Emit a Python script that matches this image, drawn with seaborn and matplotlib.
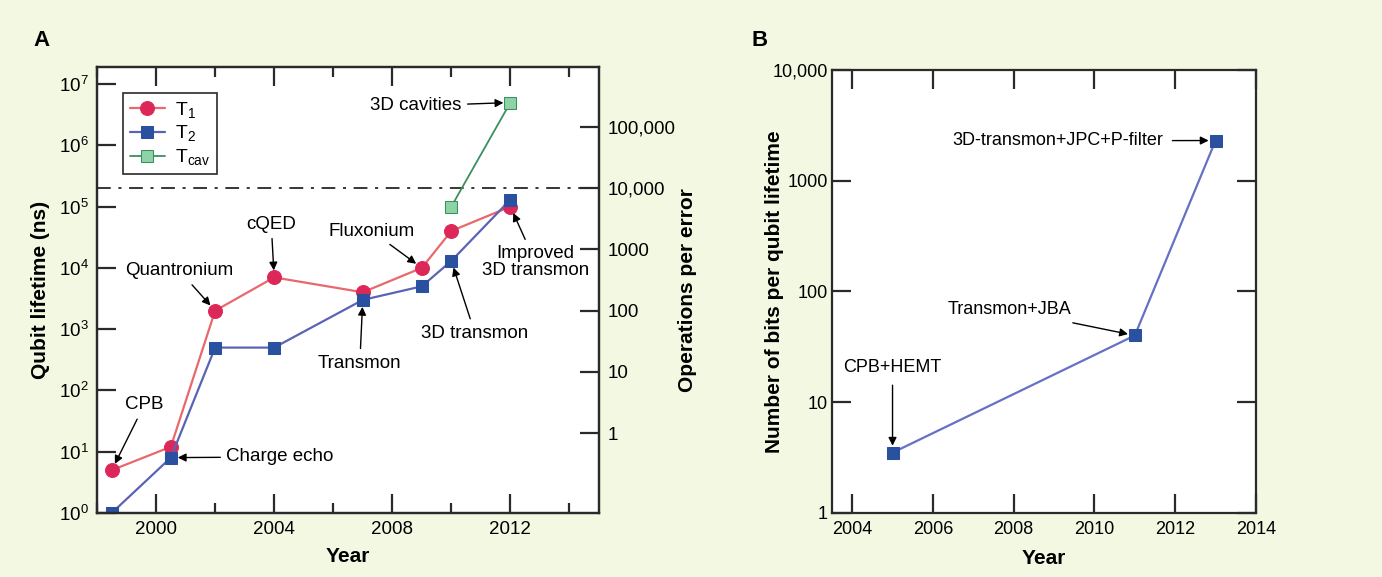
import numpy as np
import pandas as pd
import seaborn as sns
import matplotlib.pyplot as plt
from matplotlib.ticker import FixedLocator, MultipleLocator, NullLocator, FixedFormatter


## DATA
years_t1 = [1998.5, 2000.5, 2002, 2004, 2007, 2009, 2010, 2012]
t1_ns = [5, 12, 2000, 7000, 4000, 1.0e4, 4.0e4, 1.0e5]

years_t2 = [1998.5, 2000.5, 2002, 2004, 2007, 2009, 2010, 2012]
t2_ns = [1, 8, 500, 500, 3000, 5000, 1.3e4, 1.3e5]

years_cav = [2010, 2012]
tcav_ns = [1.0e5, 5.0e6]

years_bits = [2005, 2011, 2013]
bits_per_lifetime = [3.5, 40, 2300]

gate_ns = 20        # lifetime / gate time -> operations per error
threshold_ops = 1e4

ops_ticks = [1, 10, 100, 1000, 1e4, 1e5]
ops_labels = ['1', '10', '100', '1000', '10,000', '100,000']
life_ticks = [10.0**k for k in range(8)]
life_labels = [r'10$^{%d}$' % k for k in range(8)]
bits_ticks = [1, 10, 100, 1000, 1e4]
bits_labels = ['1', '10', '100', '1000', '10,000']

# (text, text position, arrow target)
notes_a = [
    ('CPB', (1999.6, 58), (1998.5, 5)),
    ('Charge echo', (2004.2, 8.2), (2000.5, 8)),
    ('Quantronium', (2000.8, 8900), (2002, 2000)),
    ('cQED', (2003.9, 5.2e4), (2004, 7000)),
    ('Transmon', (2006.9, 280), (2007, 3000)),
    ('Fluxonium', (2007.3, 4.0e4), (2009, 1.0e4)),
    ('3D transmon', (2010.8, 860), (2010, 1.3e4)),
    ('Improved\n3D transmon', (2012.85, 1.24e4), (2012, 1.0e5)),
    ('3D cavities', (2008.8, 4.4e6), (2012, 5.0e6)),
]
notes_b = [
    ('CPB+HEMT', (2005.0, 20.4), (2005, 3.5)),
    ('Transmon+JBA', (2007.9, 68), (2011, 40)),
    ('3D-transmon+JPC+P-filter', (2009.1, 2290), (2013, 2300)),
]


## STYLE
sns.set_theme(style='ticks')
plt.rcParams['font.family'] = ['Liberation Sans', 'DejaVu Sans']
plt.rcParams['mathtext.fontset'] = 'custom'
plt.rcParams['mathtext.rm'] = 'Liberation Sans'
plt.rcParams['mathtext.it'] = 'Liberation Sans:italic'
plt.rcParams['mathtext.bf'] = 'Liberation Sans:bold'
plt.rcParams['text.color'] = 'black'
plt.rcParams['axes.labelcolor'] = 'black'

bg = '#f3f8e3'
spine_c = '#2a2a2a'

fig = plt.figure(figsize=(13.82, 5.77), dpi=100, facecolor=bg)
axA = fig.add_axes([0.0702, 0.111, 0.3632, 0.773])
axB = fig.add_axes([0.602, 0.111, 0.3068, 0.768])


def style_axis(ax):
    ax.set_facecolor('white')
    for s in ax.spines.values():
        s.set_color(spine_c)
        s.set_linewidth(1.6)
    ax.tick_params(which='both', direction='in', color=spine_c, width=1.6,
                   labelcolor='black', pad=6)
    ax.tick_params(which='major', length=14)
    ax.tick_params(which='minor', length=7)


## PANEL A
sns.lineplot(x=years_t1, y=t1_ns, ax=axA, color='#e8686c', lw=1.6,
             marker='o', markersize=10, markerfacecolor='#dc2858',
             markeredgecolor='#dc2858', label='T$_1$', sort=False)
sns.lineplot(x=years_t2, y=t2_ns, ax=axA, color='#5a63b4', lw=1.6,
             marker='s', markersize=9, markerfacecolor='#2a51a0',
             markeredgecolor='#2a51a0', label='T$_2$', sort=False)
sns.lineplot(x=years_cav, y=tcav_ns, ax=axA, color='#3b8f5f', lw=1.3,
             marker='s', markersize=9, markerfacecolor='#8dd3a6',
             markeredgecolor='#3b8f5f', label=r'T$_{\mathrm{cav}}$', sort=False)

axA.axhline(threshold_ops * gate_ns, color='black', lw=1.1,
            dashes=[9, 5, 2, 5], zorder=1)

axA.set_yscale('log')
axA.set_xlim(1998, 2015)
axA.set_ylim(1, 10**7.28)
style_axis(axA)
axA.xaxis.set_major_locator(FixedLocator([2000, 2004, 2008, 2012]))
axA.xaxis.set_minor_locator(MultipleLocator(2))
axA.yaxis.set_major_locator(FixedLocator(life_ticks))
axA.yaxis.set_major_formatter(FixedFormatter(life_labels))
axA.yaxis.set_minor_locator(NullLocator())
axA.tick_params(axis='x', which='both', top=True, labelsize=13.5)
axA.tick_params(axis='y', labelsize=13.5)
axA.set_xlabel('Year', fontsize=15, fontweight='bold')
axA.set_ylabel('Qubit lifetime (ns)', fontsize=15, fontweight='bold')
axA.xaxis.set_label_coords(0.5, -0.076)
axA.yaxis.set_label_coords(-0.094, 0.5)

leg = axA.legend(loc='upper left', bbox_to_anchor=(0.052, 0.942), fontsize=14,
                 frameon=True, fancybox=False, edgecolor=spine_c,
                 handlelength=1.8, handletextpad=0.5, borderpad=0.35,
                 labelspacing=0.2, borderaxespad=0, framealpha=1)
leg.get_frame().set_linewidth(1.2)

for text, xyt, xy in notes_a:
    axA.annotate(text, xy=xy, xytext=xyt, ha='center', va='center',
                 fontsize=13.5, linespacing=1.0,
                 arrowprops=dict(arrowstyle='-|>', color='black', lw=1,
                                 mutation_scale=12, shrinkA=2, shrinkB=5))

axR = axA.twinx()
axR.set_yscale('log')
axR.set_ylim(1 / gate_ns, 10**7.28 / gate_ns)
axR.yaxis.set_major_locator(FixedLocator(ops_ticks))
axR.yaxis.set_major_formatter(FixedFormatter(ops_labels))
axR.yaxis.set_minor_locator(NullLocator())
style_axis(axR)
axR.set_facecolor('none')
axR.tick_params(axis='y', labelsize=13.5)
axR.set_ylabel('Operations per error', fontsize=15, fontweight='bold')
axR.yaxis.set_label_coords(1.157, 0.5)

## PANEL B
sns.lineplot(x=years_bits, y=bits_per_lifetime, ax=axB, color='#6670c4', lw=1.6,
             marker='s', markersize=9, markerfacecolor='#2a51a0',
             markeredgecolor='#2a51a0', sort=False)
axB.set_yscale('log')
axB.set_xlim(2003.5, 2014)
axB.set_ylim(1, 1e4)
style_axis(axB)
axB.xaxis.set_major_locator(FixedLocator(range(2004, 2015, 2)))
axB.xaxis.set_minor_locator(NullLocator())
axB.yaxis.set_major_locator(FixedLocator(bits_ticks))
axB.yaxis.set_major_formatter(FixedFormatter(bits_labels))
axB.yaxis.set_minor_locator(NullLocator())
axB.tick_params(axis='x', top=True, labelsize=13)
axB.tick_params(axis='y', right=True, labelsize=13, pad=3)
axB.set_xlabel('Year', fontsize=15, fontweight='bold')
axB.set_ylabel('Number of bits per qubit lifetime', fontsize=15,
               fontweight='bold')
axB.xaxis.set_label_coords(0.5, -0.081)
axB.yaxis.set_label_coords(-0.113, 0.5)

for text, xyt, xy in notes_b:
    axB.annotate(text, xy=xy, xytext=xyt, ha='center', va='center',
                 fontsize=13,
                 arrowprops=dict(arrowstyle='-|>', color='black', lw=1,
                                 mutation_scale=12, shrinkA=4, shrinkB=5))

fig.text(0.024, 0.93, 'A', fontsize=16, fontweight='bold', va='center')
fig.text(0.544, 0.93, 'B', fontsize=16, fontweight='bold', va='center')

plt.savefig('out.png', dpi=100, facecolor=bg)
